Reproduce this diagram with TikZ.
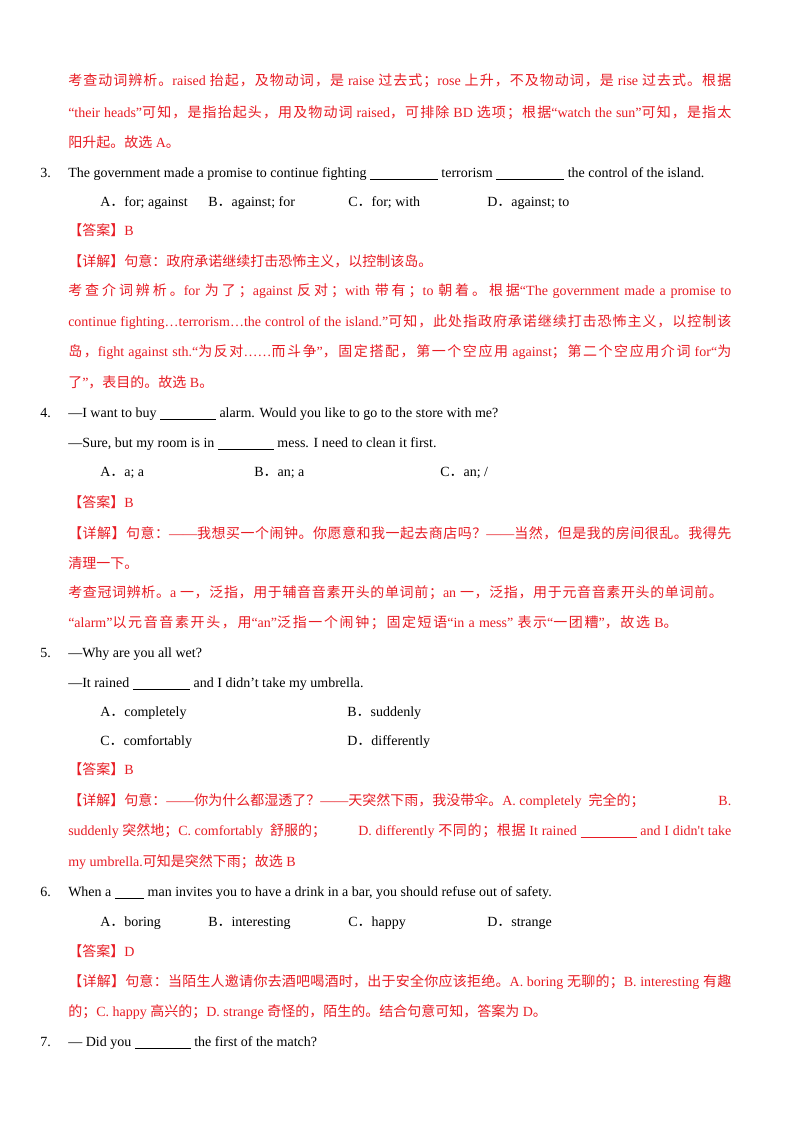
\documentclass[tikz,border=0pt]{standalone}
\usepackage{fontspec}
\setmainfont{Liberation Serif}
\newfontfamily\lat{Liberation Serif}
\newfontfamily\cjk{Noto Sans CJK SC}
\newcount\cc
\newXeTeXintercharclass\CJKcls
\def\setrange#1#2{\cc=#1 \loop \XeTeXcharclass\cc=\CJKcls \ifnum\cc<#2 \advance\cc 1 \repeat}
\setrange{"4E00}{"9FFF}
\setrange{"3000}{"303F}
\setrange{"FF00}{"FFEF}
\XeTeXinterchartokenstate=1
\XeTeXinterchartoks 0 \CJKcls = {\cjk}
\XeTeXinterchartoks 4095 \CJKcls = {\cjk}
\XeTeXinterchartoks \CJKcls 0 = {\lat}
\XeTeXinterchartoks \CJKcls 4095 = {\lat}
\XeTeXinterchartoks \CJKcls \CJKcls = {\hskip 0pt plus 3pt minus 0.4pt\relax}
\definecolor{ansred}{RGB}{232,28,36}
\newcommand\bl[1]{\rule[-1.6pt]{#1}{0.45pt}}
\newcommand\jl[1]{\makebox[497.25pt][s]{#1}}
\begin{document}
\begin{tikzpicture}[x=0.75pt,y=-0.75pt,
  txt/.style={anchor=base west,inner sep=0pt,font=\fontsize{10.5}{12}\selectfont},
  rt/.style={txt,text=ansred},
  bk/.style={txt,text=black}]
\useasboundingbox (0,0) rectangle (800,1132);
\fill[white] (0,0) rectangle (800,1132);
\node[rt] (l1) at (68,85) {\jl{考查动词辨析。raised 抬起，及物动词，是 raise 过去式；rose 上升，不及物动词，是 rise 过去式。根据}};
\node[rt] (l2) at (68,117) {\jl{“their heads”可知，是指抬起头，用及物动词 raised，可排除 BD 选项；根据“watch the sun”可知，是指太}};
\node[rt] (l3) at (68,147) {阳升起。故选 A。};
\node[bk] (q3n) at (40,177) {3.};
\node[bk] (q3) at (68,177) {The government made a promise to continue fighting \bl{51pt} terrorism \bl{51pt} the control of the island.};
\node[bk] (q3a) at (100,206) {A．for; against};
\node[bk] (q3b) at (208,206) {B．against; for};
\node[bk] (q3c) at (348,206) {C．for; with};
\node[bk] (q3d) at (487,206) {D．against; to};
\node[rt] (a3) at (68,235) {【答案】B};
\node[rt] (x3) at (68,266) {【详解】句意：政府承诺继续打击恐怖主义，以控制该岛。};
\node[rt] (x3b) at (68,295) {\jl{考查介词辨析。for 为了；against 反对；with 带有；to 朝着。根据“The government made a promise to}};
\node[rt] (x3c) at (68,326) {\jl{continue fighting…terrorism…the control of the island.”可知，此处指政府承诺继续打击恐怖主义，以控制该}};
\node[rt] (x3d) at (68,356) {\jl{岛，fight against sth.“为反对……而斗争”，固定搭配，第一个空应用 against；第二个空应用介词 for“为}};
\node[rt] (x3e) at (68,387) {了”，表目的。故选 B。};
\node[bk] (q4n) at (40,417) {4.};
\node[bk] (q4) at (68,417) {—I want to buy \bl{42pt} alarm. Would you like to go to the store with me?};
\node[bk] (q4b) at (68,447) {—Sure, but my room is in \bl{42pt} mess. I need to clean it first.};
\node[bk] (q4a) at (100,476) {A．a; a};
\node[bk] (q4bb) at (254,476) {B．an; a};
\node[bk] (q4c) at (440,476) {C．an; /};
\node[rt] (a4) at (68,507) {【答案】B};
\node[rt] (x4) at (68,538) {\jl{【详解】句意：——我想买一个闹钟。你愿意和我一起去商店吗？——当然，但是我的房间很乱。我得先}};
\node[rt] (x4b) at (68,568) {清理一下。};
\node[rt] (x4c) at (68,597) {\makebox[491pt][s]{考查冠词辨析。a 一，泛指，用于辅音音素开头的单词前；an 一，泛指，用于元音音素开头的单词前。}};
\node[rt] (x4d) at (68,627) {\makebox[457pt][s]{“alarm”以元音音素开头，用“an”泛指一个闹钟；固定短语“in a mess” 表示“一团糟”，故选 B。}};
\node[bk] (q5n) at (40,657) {5.};
\node[bk] (q5) at (68,657) {—Why are you all wet?};
\node[bk] (q5b) at (68,687) {—It rained \bl{43pt} and I didn't take my umbrella.};
\node[bk] (q5a) at (100,716) {A．completely};
\node[bk] (q5bb) at (347,716) {B．suddenly};
\node[bk] (q5c) at (100,745) {C．comfortably};
\node[bk] (q5d) at (347,745) {D．differently};
\node[rt] (a5) at (68,774) {【答案】B};
\node[rt] (x5) at (68,805) {\makebox[497.25pt][l]{【详解】句意：——你为什么都湿透了？——天突然下雨，我没带伞。A. completely\ \ 完全的；\hfill B.}};
\node[rt] (x5b) at (68,835) {suddenly 突然地；C. comfortably\ \ 舒服的；};
\node[rt] (x5c) at (358,835) {\makebox[279.75pt][s]{D. differently 不同的；根据 It rained \bl{42pt} and I didn't take}};
\node[rt] (x5d) at (68,866) {my umbrella.可知是突然下雨；故选 B};
\node[bk] (q6n) at (40,896) {6.};
\node[bk] (q6) at (68,896) {When a \bl{22pt} man invites you to have a drink in a bar, you should refuse out of safety.};
\node[bk] (q6a) at (100,926) {A．boring};
\node[bk] (q6b) at (208,926) {B．interesting};
\node[bk] (q6c) at (348,926) {C．happy};
\node[bk] (q6d) at (487,926) {D．strange};
\node[rt] (a6) at (68,956) {【答案】D};
\node[rt] (x6) at (68,986) {\jl{【详解】句意：当陌生人邀请你去酒吧喝酒时，出于安全你应该拒绝。A. boring 无聊的；B. interesting 有趣}};
\node[rt] (x6b) at (68,1016) {的；C. happy 高兴的；D. strange 奇怪的，陌生的。结合句意可知，答案为 D。};
\node[bk] (q7n) at (40,1046) {7.};
\node[bk] (q7) at (68,1046) {— Did you \bl{42pt} the first of the match?};
\end{tikzpicture}
\end{document}
